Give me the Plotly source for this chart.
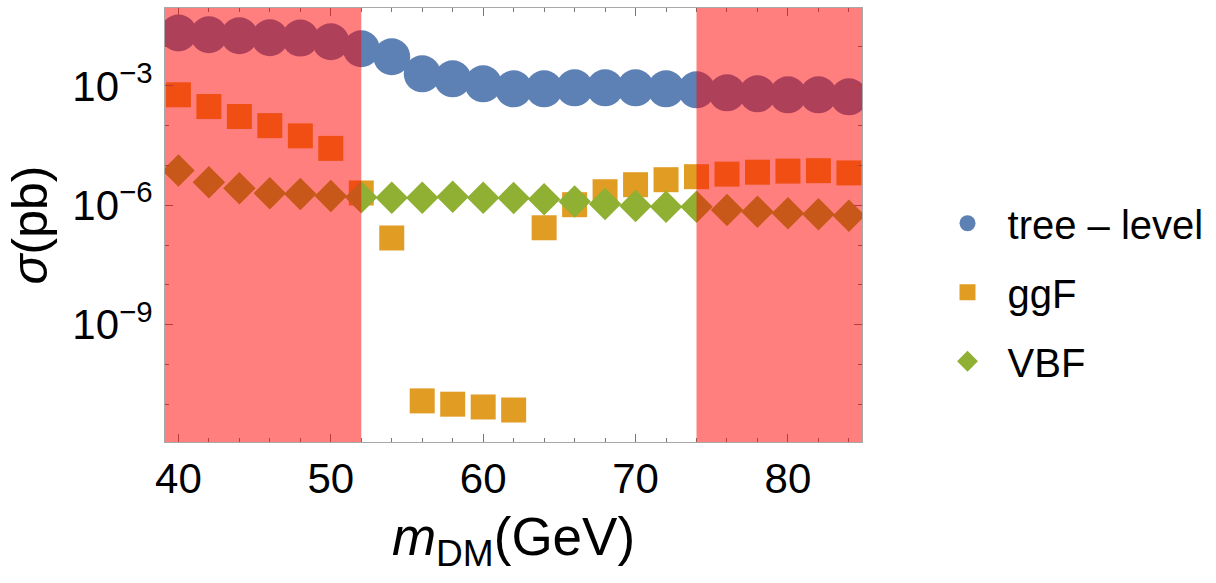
import plotly.graph_objects as go

m_dm = [40, 42, 44, 46, 48, 50, 52, 54, 56, 58, 60, 62, 64, 66, 68, 70, 72, 74, 76, 78, 80, 82, 84]

tree_level = [2.12e-2, 1.92e-2, 1.81e-2, 1.61e-2, 1.58e-2, 1.28e-2, 8.53e-3, 5.37e-3,
              2.00e-3, 1.50e-3, 1.12e-3, 8.41e-4, 8.41e-4, 8.91e-4, 8.91e-4, 8.91e-4,
              8.41e-4, 7.92e-4, 6.67e-4, 6.30e-4, 5.94e-4, 5.94e-4, 5.28e-4]

ggF = [5.94e-4, 3.01e-4, 1.69e-4, 9.98e-5, 5.52e-5, 2.68e-5, 2.03e-6, 1.50e-7,
       1.21e-11, 1.00e-11, 8.51e-12, 7.14e-12, 2.71e-7, 1.03e-6, 2.18e-6, 3.27e-6,
       4.37e-6, 5.20e-6, 6.04e-6, 6.75e-6, 7.19e-6, 7.36e-6, 6.47e-6]

VBF = [7.40e-6, 3.78e-6, 2.67e-6, 2.00e-6, 1.92e-6, 1.71e-6, 1.58e-6, 1.55e-6,
       1.55e-6, 1.64e-6, 1.55e-6, 1.52e-6, 1.41e-6, 1.23e-6, 1.07e-6, 9.57e-7,
       9.20e-7, 9.20e-7, 7.60e-7, 6.89e-7, 6.28e-7, 5.93e-7, 5.46e-7]

excluded_regions = [(None, 52), (74, None)]

x_tickvals = [40, 50, 60, 70, 80]
y_tickvals = [1e-3, 1e-6, 1e-9]
y_ticktext = ["10<sup>\u22123</sup>", "10<sup>\u22126</sup>", "10<sup>\u22129</sup>"]
y_minor = [1e-2, 1e-4, 1e-5, 1e-7, 1e-8, 1e-10, 1e-11]

x_range = [39.12, 84.86]
y_range_log = [-11.95, -1.045]

FONT = "Liberation Sans, Arial, sans-serif"

fig = go.Figure()
fig.add_trace(go.Scatter(x=m_dm, y=tree_level, mode="markers", name="tree \u2013 level",
                         legendgroup="a",
                         marker=dict(symbol="circle", size=37, color="#5E81B5", line=dict(width=0))))
fig.add_trace(go.Scatter(x=m_dm, y=ggF, mode="markers", name="ggF", legendgroup="b",
                         marker=dict(symbol="square", size=25, color="#E19C24", line=dict(width=0))))
fig.add_trace(go.Scatter(x=m_dm, y=VBF, mode="markers", name="VBF", legendgroup="c",
                         marker=dict(symbol="diamond", size=25, color="#8FB032", line=dict(width=0))))

for lo, hi in excluded_regions:
    fig.add_shape(type="rect", xref="x", yref="y domain",
                  x0=x_range[0] if lo is None else lo,
                  x1=x_range[1] if hi is None else hi,
                  y0=0, y1=1, fillcolor="rgba(255,0,0,0.5)", line=dict(width=0),
                  layer="above")

axis_common = dict(showline=True, linecolor="#a8a8a8", linewidth=1, mirror="ticks",
                   ticks="inside", ticklen=8, tickcolor="#777777", showgrid=False,
                   zeroline=False, tickfont=dict(family=FONT, size=42, color="black"))

fig.update_xaxes(range=x_range, tickvals=x_tickvals,
                 minor=dict(dtick=2, tick0=40, ticks="inside", ticklen=4, tickcolor="#777777",
                            showgrid=False),
                 title=dict(text="<i>m</i><sub>DM</sub>(GeV)", font=dict(family=FONT, size=53, color="black"),
                            standoff=16),
                 ticklabelstandoff=0,
                 **axis_common)
fig.update_yaxes(type="log", range=y_range_log, tickvals=y_tickvals, ticktext=y_ticktext,
                 minor=dict(tickvals=y_minor, ticks="inside", ticklen=4, tickcolor="#777777",
                            showgrid=False),
                 title=dict(text="<i>\u03c3</i>(pb)", font=dict(family=FONT, size=50, color="black"),
                            standoff=8),
                 ticklabelstandoff=3,
                 **axis_common)

fig.update_layout(
    width=1216, height=583,
    margin=dict(l=165, r=349, t=8, b=141),
    paper_bgcolor="white", plot_bgcolor="white",
    showlegend=True,
    legend=dict(x=1.094, xanchor="left", y=0.345, yanchor="middle",
                font=dict(family=FONT, size=40, color="black"),
                itemwidth=70, tracegroupgap=14, traceorder="grouped",
                bgcolor="rgba(0,0,0,0)"),
)

fig.write_html("out.html")
